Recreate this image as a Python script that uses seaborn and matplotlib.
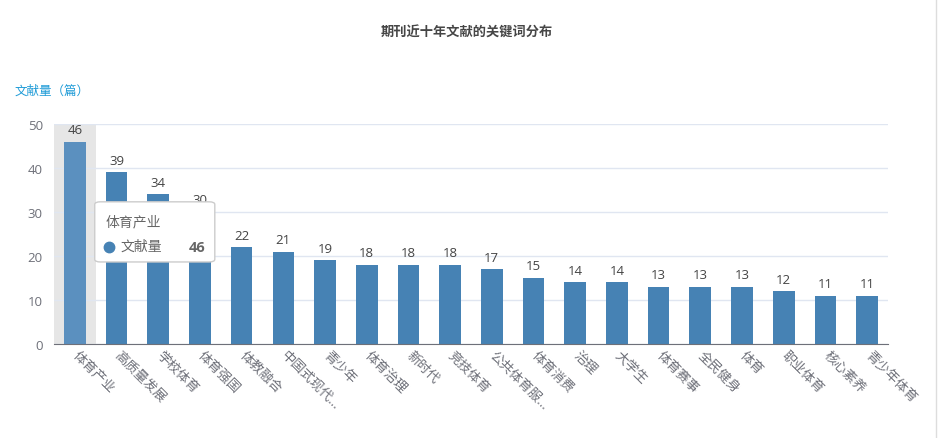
import matplotlib
matplotlib.use("Agg")
import matplotlib.pyplot as plt
import seaborn as sns
import pandas as pd
from matplotlib.patches import FancyBboxPatch
from matplotlib.lines import Line2D

keywords = ["体育产业", "高质量发展", "学校体育", "体育强国", "体教融合", "中国式现代...",
            "青少年", "体育治理", "新时代", "竞技体育", "公共体育服...", "体育消费",
            "治理", "大学生", "体育赛事", "全民健身", "体育", "职业体育", "核心素养", "青少年体育"]
counts = [46, 39, 34, 30, 22, 21, 19, 18, 18, 18, 17, 15, 14, 14, 13, 13, 13, 12, 11, 11]
y_ticks = [0, 10, 20, 30, 40, 50]

sns.set_style("white")
plt.rcParams['font.family'] = ['Open Sans', 'Noto Sans CJK SC', 'DejaVu Sans']

df = pd.DataFrame({"关键词": keywords, "文献量": counts})
colors = ["#5b90bf"] + ["#4682b4"] * (len(keywords) - 1)

fig = plt.figure(figsize=(9.38, 4.39), dpi=100)
ax = fig.add_axes([0.0576, 0.2141, 0.889, 0.5012])

# hover highlight on the first category
ax.axvspan(-0.5, 0.5, color="#e6e6e6", zorder=0, lw=0)

sns.barplot(data=df, x="关键词", y="文献量", hue="关键词", palette=colors,
            legend=False, width=0.52, ax=ax, zorder=2, saturation=1, linewidth=0)

for c in ax.containers:
    ax.bar_label(c, padding=4, fontsize=9.5, color="#444444")

ax.set_ylim(0, 50)
ax.set_xlim(-0.5, len(keywords) - 0.5)
ax.set_yticks(y_ticks)
ax.yaxis.grid(True, color="#e0e6f1", lw=1, zorder=0)
ax.set_axisbelow(True)
for s in ["top", "right", "left"]:
    ax.spines[s].set_visible(False)
ax.spines["bottom"].set_color("#6e7079")
ax.tick_params(axis="y", length=0, labelsize=9.5, labelcolor="#6e7079", pad=8)
ax.tick_params(axis="x", length=0, labelsize=9.5, labelcolor="#6e7079", pad=6)
ax.set_xlabel("")
ax.set_ylabel("")
for lab in ax.get_xticklabels():
    lab.set_rotation(-45)
    lab.set_ha("left")
    lab.set_va("center")
    lab.set_rotation_mode("anchor")

fig.text(0.498, 0.925, "期刊近十年文献的关键词分布", ha="center", va="center",
         fontsize=9.5, fontweight="bold", color="#464646")
fig.text(0.016, 0.792, "文献量（篇）", ha="left", va="center",
         fontsize=9, color="#1e9bd7")

# tooltip
tip = FancyBboxPatch((0.101, 0.401), 0.128, 0.137, boxstyle="round,pad=0,rounding_size=0.006",
                     transform=fig.transFigure, facecolor="white", edgecolor="#cccccc",
                     lw=1, zorder=10)
fig.add_artist(tip)
fig.text(0.113, 0.492, keywords[0], fontsize=10, color="#666666", va="center", zorder=11)
fig.add_artist(Line2D([0.1165], [0.436], marker="o", markersize=7.5, color="#4682b4",
                      transform=fig.transFigure, zorder=11))
fig.text(0.128, 0.436, "文献量", fontsize=10, color="#666666", va="center", zorder=11)
fig.text(0.219, 0.436, str(counts[0]), fontsize=10.5, color="#666666", fontweight="bold",
         va="center", ha="right", zorder=11)

fig.add_artist(Line2D([0.998, 0.998], [0, 1], color="#dddddd", lw=1, transform=fig.transFigure))

fig.savefig("out.png", dpi=100)
